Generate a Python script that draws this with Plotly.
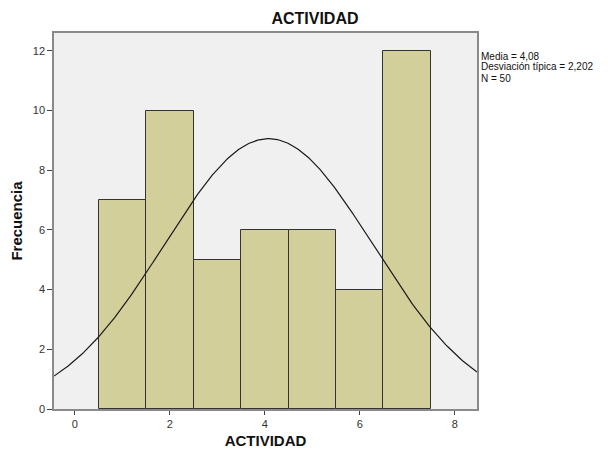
import numpy as np
import plotly.graph_objects as go

categories = [1, 2, 3, 4, 5, 6, 7]
counts = [7, 10, 5, 6, 6, 4, 12]
mean_val = 4.08
sd_val = 2.202
n_val = 50
bin_width = 1
x_ticks = [0, 2, 4, 6, 8]
y_ticks = [0, 2, 4, 6, 8, 10, 12]
stats_lines = ["Media = 4,08", "Desviación típica = 2,202", "N = 50"]

xr = [-0.44, 8.47]
xs = np.linspace(xr[0], xr[1], 300)
ys = n_val * bin_width / (sd_val * np.sqrt(2 * np.pi)) * np.exp(-0.5 * ((xs - mean_val) / sd_val) ** 2)

fig = go.Figure()
fig.add_trace(go.Bar(
    x=categories, y=counts, width=1,
    marker=dict(color="#D3CF9B", line=dict(color="#333333", width=1)),
    hoverinfo="x+y",
))
fig.add_trace(go.Scatter(x=xs, y=ys, mode="lines", line=dict(color="#1a1a1a", width=1.2), hoverinfo="skip"))

FONT = "Liberation Sans, Arial, sans-serif"
fig.update_layout(
    width=600, height=441,
    margin=dict(l=46, r=131, t=25, b=40, autoexpand=False),
    paper_bgcolor="white", plot_bgcolor="#F0F0F0",
    showlegend=False, bargap=0,
    font=dict(family=FONT, color="#222222"),
    title=dict(text="<b>ACTIVIDAD</b>", x=0.617, xref="paper", xanchor="center",
               y=1, yref="container", yanchor="top", pad=dict(t=5),
               font=dict(size=16, color="#111111")),
)
fig.update_xaxes(range=xr, tickvals=x_ticks, ticks="outside", ticklen=4, tickcolor="#444",
                 showgrid=False, zeroline=False, showline=True, linecolor="#8a8a8a", linewidth=1.5,
                 mirror=True, tickfont=dict(size=11, color="#333"), automargin=False,
                 title=dict(text="<b>ACTIVIDAD</b>", font=dict(size=15, color="#111"), standoff=9))
fig.update_yaxes(range=[0, 12.6], tickvals=y_ticks, ticks="outside", ticklen=5, tickcolor="#444",
                 showgrid=False, zeroline=False, showline=True, linecolor="#8a8a8a", linewidth=1.5,
                 mirror=True, tickfont=dict(size=11, color="#333"), automargin=False,
                 title=dict(text="<b>Frecuencia</b>", font=dict(size=15, color="#111"), standoff=14))
for line, yy in zip(stats_lines, [0.9388, 0.9096, 0.8803]):
    fig.add_annotation(xref="paper", yref="paper", x=1.008, y=yy, xanchor="left", yanchor="middle",
                       align="left", showarrow=False, text=line, borderpad=0,
                       font=dict(family=FONT, size=10, color="#111"))
fig.write_html("out.html")
